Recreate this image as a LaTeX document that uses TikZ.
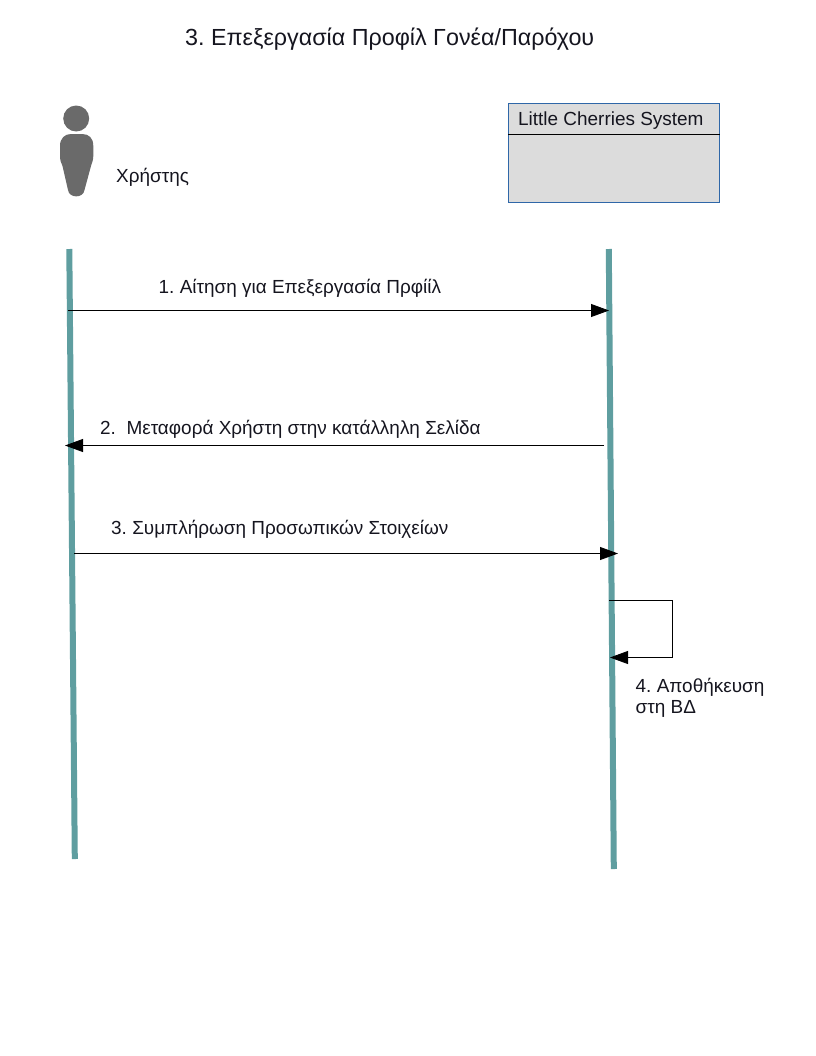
\documentclass[tikz,border=0pt]{standalone}
\usepackage{fontspec}
\setmainfont{Liberation Sans}
\usetikzlibrary{arrows.meta,calc}
\definecolor{life}{HTML}{5F9EA0}
\definecolor{actor}{HTML}{6A6A6A}
\definecolor{boxfill}{HTML}{DCDCDC}
\definecolor{boxline}{HTML}{2F67A8}
\definecolor{txt}{HTML}{15151F}
\frenchspacing
\tikzset{
  lifeline/.style={draw=life,line width=6bp},
  msg/.style={draw=black,line width=0.8bp,-{Triangle[length=18bp,width=13bp]}},
  lab/.style={anchor=base west,inner sep=0pt,text=txt,font=\fontsize{18.95bp}{21bp}\selectfont},
  lab2/.style={anchor=north west,align=left,inner sep=0pt,text=txt,font=\fontsize{18.95bp}{21.5bp}\selectfont},
}
\begin{document}
\begin{tikzpicture}[x=1bp,y=-1bp]
\useasboundingbox (0,0) rectangle (816,1056);
\node[anchor=base west,inner sep=0pt,text=txt,font=\fontsize{23.3bp}{25bp}\selectfont] (title) at (185,45) {3. Επεξεργασία Προφίλ Γονέα/Παρόχου};
% actor
\fill[actor] (76.2,118.5) circle (13);
\fill[actor] (60,146) .. controls (60,138) and (65,134) .. (71,134) -- (82,134) .. controls (89,134) and (93.3,138) .. (93.3,146) -- (93.3,156) .. controls (93.3,160) and (92,163) .. (91,166) -- (84.5,190) .. controls (83.5,198.5) and (69,198.5) .. (68,190) -- (62.5,166) .. controls (61,163) and (60,160) .. (60,156) -- cycle;
\node[lab] (user) at (116,182) {Χρήστης};
% system box
\node[draw=boxline,fill=boxfill,line width=0.9bp,minimum width=211bp,minimum height=99bp,anchor=north west,inner sep=0pt] (sys) at (508,102.8) {};
\draw[black,line width=0.8bp] (sys.north west |- 0,134.5) -- (sys.north east |- 0,134.5);
\node[lab] (systxt) at (518,125) {Little Cherries System};
% lifelines
\coordinate (uTop) at (69.3,249);
\coordinate (uBot) at (74.8,859);
\coordinate (sTop) at (608.8,249);
\coordinate (sBot) at (613.8,869);
\draw[lifeline] (uTop) -- (uBot);
\draw[lifeline] (sTop) -- (sBot);
% messages
\coordinate (m1a) at (68,310.5); \coordinate (m1b) at (609,310.5);
\coordinate (m2a) at (604,445.5); \coordinate (m2b) at (65,445.5);
\coordinate (m3a) at (74,553.5); \coordinate (m3b) at (618,553.5);
\coordinate (m4a) at (609,600.5); \coordinate (m4c) at (672.5,600.5); \coordinate (m4d) at (672.5,657.5); \coordinate (m4b) at (610,657.5);
\draw[msg] (m1a) -- (m1b);
\draw[msg] (m2a) -- (m2b);
\draw[msg] (m3a) -- (m3b);
\draw[msg] (m4a) -- (m4c) -- (m4d) -- (m4b);
\node[lab] (l1) at (158.5,293) {1. Αίτηση για Επεξεργασία Πρφίίλ};
\node[lab] (l2) at (100,434) {2.\ \ Μεταφορά Χρήστη στην κατάλληλη Σελίδα};
\node[lab] (l3) at (111,534) {3. Συμπλήρωση Προσωπικών Στοιχείων};
\node[lab2] (l4) at (635.5,678) {4. Αποθήκευση\\στη ΒΔ};
\end{tikzpicture}
\end{document}
